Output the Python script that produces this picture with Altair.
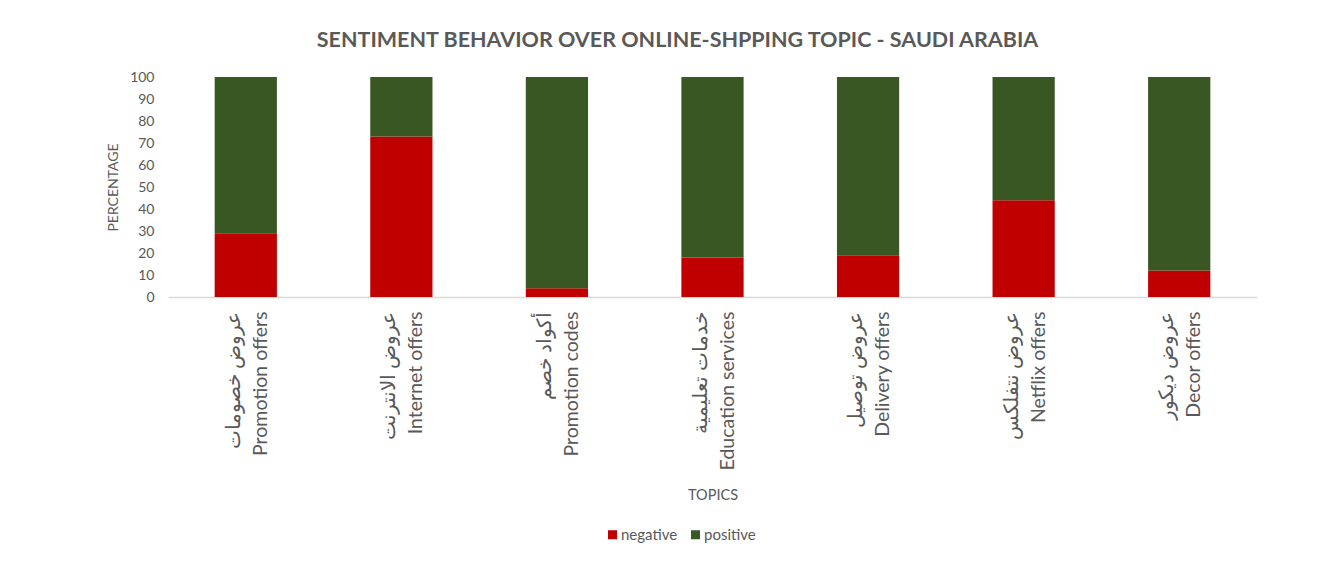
import altair as alt
import pandas as pd

topics_ar = ["عروض خصومات", "عروض الانترنت", "أكواد خصم", "خدمات تعليمية",
             "عروض توصيل", "عروض نتفلكس", "عروض ديكور"]
topics_en = ["Promotion offers", "Internet offers", "Promotion codes", "Education services",
             "Delivery offers", "Netflix offers", "Decor offers"]
negative = [29, 73, 4, 18, 19, 44, 12]
positive = [71, 27, 96, 82, 81, 56, 88]
series = ["negative", "positive"]
colors = ["#C00000", "#385723"]
y_ticks = [0, 10, 20, 30, 40, 50, 60, 70, 80, 90, 100]

cats = [a + "|" + e for a, e in zip(topics_ar, topics_en)]
rows = []
for c, n, p in zip(cats, negative, positive):
    rows.append({"topic": c, "sentiment": "negative", "value": n, "ord": 0})
    rows.append({"topic": c, "sentiment": "positive", "value": p, "ord": 1})
df = pd.DataFrame(rows)

FONT = "Lato"
GREY = "#595959"

chart = alt.Chart(df).mark_bar().encode(
    x=alt.X("topic:N", sort=cats,
            scale=alt.Scale(paddingInner=0.6, paddingOuter=0.3),
            axis=alt.Axis(title="TOPICS", labelAngle=-90, labelAlign="right",
                          labelBaseline="middle", labelExpr="split(datum.label, '|')",
                          labelFontSize=19.5, labelColor=GREY, labelFont=FONT,
                          labelPadding=14, labelLimit=400, ticks=False, labelOffset=-12,
                          domainColor="#D9D9D9", domainWidth=1.5, labelLineHeight=27,
                          titleFont=FONT, titleFontSize=14.5, titleFontWeight="normal",
                          titleColor=GREY, titleY=191, titleBaseline="top")),
    y=alt.Y("value:Q", stack="zero",
            scale=alt.Scale(domain=[0, 100], nice=False),
            axis=alt.Axis(title="PERCENTAGE", values=y_ticks, grid=False, domain=False,
                          ticks=False, labelFontSize=14, labelColor=GREY, labelFont=FONT,
                          labelPadding=14, titleFont=FONT, titleFontSize=14,
                          titleFontWeight="normal", titleColor=GREY,
                          titleX=-55, titleY=110, titleAngle=-90,
                          titleAlign="center", titleBaseline="middle")),
    color=alt.Color("sentiment:N",
                    scale=alt.Scale(domain=series, range=colors),
                    legend=alt.Legend(title=None, orient="none", direction="horizontal",
                                      legendX=437, legendY=450, symbolType="square",
                                      symbolSize=81, labelFont=FONT, labelFontSize=15,
                                      labelColor=GREY, columnPadding=10, labelOffset=1,
                                      symbolStrokeWidth=0)),
    order=alt.Order("ord:Q", sort="ascending"),
).properties(
    width=1089, height=220,
    title=alt.TitleParams("SENTIMENT BEHAVIOR OVER ONLINE-SHPPING TOPIC - SAUDI ARABIA",
                          font=FONT, fontSize=21.5, fontWeight="bold", color=GREY,
                          anchor="middle", dx=-35, offset=19),
    padding={"left": 160, "top": 69, "right": 77, "bottom": 261},
    autosize=alt.AutoSizeParams(type="none"),
).configure(background="white", view=alt.ViewConfig(stroke=None))

chart.save("out.html", embed_options={"renderer": "svg", "actions": False})
